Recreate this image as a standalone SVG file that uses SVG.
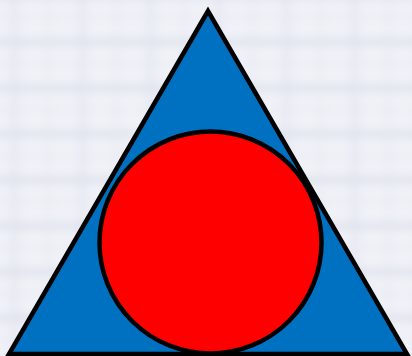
<svg xmlns="http://www.w3.org/2000/svg" width="412" height="356" viewBox="0 0 412 356">
  <defs>
    <pattern id="plaid" width="68" height="46" patternUnits="userSpaceOnUse">
      <rect width="68" height="46" fill="#f0f2f8"/>
      <rect x="0" y="38" width="68" height="9" fill="#d9dde8" opacity="0.7"/>
      <rect x="10" y="0" width="9" height="46" fill="#dfe3ec" opacity="0.55"/>
      <rect x="46" y="0" width="5" height="46" fill="#e3e6ee" opacity="0.45"/>
      <rect x="0" y="15" width="68" height="5" fill="#e5e8f0" opacity="0.5"/>
    </pattern>
    <filter id="blur" x="0" y="0" width="1" height="1">
      <feGaussianBlur stdDeviation="4.5"/>
    </filter>
    <style>
      .shape { stroke: #000; stroke-width: 4.5; stroke-linejoin: miter; }
    </style>
  </defs>
  <g id="background">
    <rect x="-20" y="-20" width="452" height="396" fill="url(#plaid)" filter="url(#blur)"/>
  </g>
  <g id="triangle">
    <polygon class="shape" points="208,11 9,354 407,354" fill="#0070c0"/>
  </g>
  <g id="circle">
    <circle class="shape" cx="210.5" cy="242.5" r="111" fill="#ff0000"/>
  </g>
  <g id="connectors"></g>
</svg>
